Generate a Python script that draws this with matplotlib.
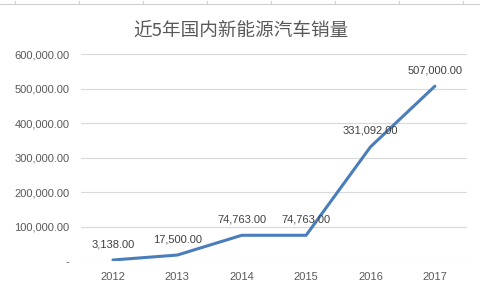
import matplotlib.pyplot as plt
from matplotlib.lines import Line2D
from matplotlib.ticker import FuncFormatter

plt.rcParams['font.family'] = ['Noto Sans CJK SC', 'DejaVu Sans']

years = ['2012', '2013', '2014', '2015', '2016', '2017']
sales = [3138, 17500, 74763, 74763, 331092, 507000]
title = '近5年国内新能源汽车销量'


def fmt(v, pos=None):
    if v == 0:
        return '-'
    return f'{v:,.2f}'


fig = plt.figure(figsize=(4.81, 2.94), dpi=100)
ax = fig.add_axes([0.168, 0.112, 0.803, 0.704])

x = list(range(len(years)))
ax.plot(x, sales, color='#4A7EBB', lw=2.2, solid_capstyle='round', zorder=3)
for xi, v in zip(x, sales):
    ax.annotate(fmt(v), (xi, v), xytext=(0, 11.5), textcoords='offset points',
                ha='center', va='center', fontsize=8, color='#404040',
                family=['Liberation Sans', 'DejaVu Sans'])

ax.set_xlim(-0.5, len(years) - 0.5)
ax.set_ylim(0, 600000)
ax.set_yticks(range(0, 600001, 100000))
ax.yaxis.set_major_formatter(FuncFormatter(fmt))
ax.set_xticks(x)
ax.set_xticklabels(years)
ax.grid(axis='y', color='#D9D9D9', lw=0.8)
ax.set_axisbelow(True)
for s in ax.spines.values():
    s.set_visible(False)
ax.tick_params(length=0, labelsize=8, labelcolor='#595959', pad=8)
for lab in ax.get_xticklabels() + ax.get_yticklabels():
    lab.set_family(['Liberation Sans', 'DejaVu Sans'])

fig.text(0.5, 0.897, title, ha='center', va='center', fontsize=13.4, color='#595959')

# faint ruler line along the top edge
fig.add_artist(Line2D([0, 1], [0.986, 0.986], color='#D0D0D0', lw=0.8))
for i in range(8):
    xf = (15 + i * 64) / 481
    fig.add_artist(Line2D([xf, xf], [0.986, 0.996], color='#D0D0D0', lw=0.8))

plt.savefig('out.png', dpi=100)
